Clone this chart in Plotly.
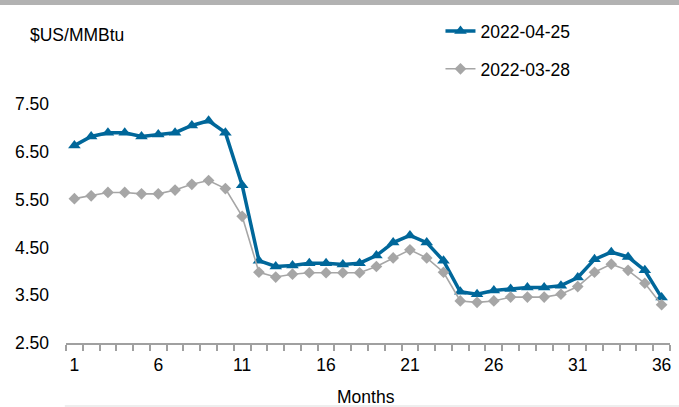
import plotly.graph_objects as go

months = list(range(1, 37))

curve_0425 = [6.63, 6.82, 6.90, 6.90, 6.82, 6.86, 6.90, 7.05, 7.15, 6.90,
              5.80, 4.22, 4.10, 4.12, 4.17, 4.17, 4.14, 4.17, 4.33, 4.60,
              4.75, 4.60, 4.22, 3.57, 3.52, 3.60, 3.63, 3.66, 3.66, 3.70,
              3.87, 4.25, 4.40, 4.30, 4.02, 3.45]

curve_0328 = [5.52, 5.58, 5.65, 5.65, 5.62, 5.62, 5.70, 5.82, 5.90, 5.73,
              5.15, 3.98, 3.88, 3.94, 3.97, 3.97, 3.97, 3.97, 4.10, 4.28,
              4.45, 4.28, 3.98, 3.38, 3.35, 3.38, 3.46, 3.46, 3.46, 3.52,
              3.68, 3.98, 4.15, 4.02, 3.75, 3.30]

x_tick_vals = [1, 6, 11, 16, 21, 26, 31, 36]
y_tick_vals = [2.5, 3.5, 4.5, 5.5, 6.5, 7.5]

FONT = "Liberation Sans, Arial, sans-serif"
FS = 17.5

# plot area: 2.50 sits at pixel row 343, 7.50 at row 104 (239 px tall)
def py(row):
    return (343 - row) / 239

fig = go.Figure()
fig.add_trace(go.Scatter(
    x=months, y=curve_0425, name="2022-04-25", mode="lines+markers",
    line=dict(color="#00679A", width=3.5),
    marker=dict(symbol="triangle-up", size=11, color="#00679A"),
    legendgroup="a",
))
fig.add_trace(go.Scatter(
    x=months, y=curve_0328, name="2022-03-28", mode="lines+markers",
    line=dict(color="#A6A6A6", width=1.6),
    marker=dict(symbol="diamond", size=9, color="#A6A6A6"),
    legendgroup="b",
))

fig.update_layout(
    width=679, height=407,
    margin=dict(l=66, r=9, t=104, b=64),
    paper_bgcolor="white", plot_bgcolor="white",
    font=dict(family=FONT, size=FS, color="#000000"),
    showlegend=True,
    legend=dict(x=0.62, y=1.38, xanchor="left", yanchor="top",
                font=dict(size=FS), tracegroupgap=12, bgcolor="rgba(0,0,0,0)"),
    xaxis=dict(
        range=[0.5, 36.5], tickmode="array", tickvals=x_tick_vals,
        ticks="", showgrid=False, zeroline=False,
        showline=True, linecolor="#A0A0A0", linewidth=1.5,
        minor=dict(tickmode="linear", tick0=0.5, dtick=1, ticks="outside",
                   ticklen=6, tickcolor="#A0A0A0", tickwidth=1.5, showgrid=False),
        tickfont=dict(size=FS), ticklabelstandoff=5,
    ),
    yaxis=dict(
        range=[2.5, 7.5], tickmode="array", tickvals=y_tick_vals,
        tickformat=".2f", ticks="", showgrid=False, zeroline=False,
        showline=False, tickfont=dict(size=FS), ticklabelstandoff=16,
    ),
    shapes=[
        dict(type="rect", xref="paper", yref="paper", x0=-0.2, x1=1.1,
             y0=py(0), y1=py(5), fillcolor="#B2B2B2",
             line=dict(width=0), layer="below"),
        dict(type="rect", xref="paper", yref="paper", x0=-0.002, x1=1.1,
             y0=py(410), y1=py(405), fillcolor="#EEEEEE",
             line=dict(width=0), layer="below"),
    ],
    annotations=[
        dict(text="$US/MMBtu", xref="paper", yref="paper",
             x=(28 - 66) / 604, y=py(35), xanchor="left", yanchor="middle",
             showarrow=False, font=dict(size=FS)),
        dict(text="Months", xref="paper", yref="paper",
             x=(366 - 66) / 604, y=py(397), xanchor="center", yanchor="middle",
             showarrow=False, font=dict(size=FS)),
    ],
)

fig.write_html("out.html")
